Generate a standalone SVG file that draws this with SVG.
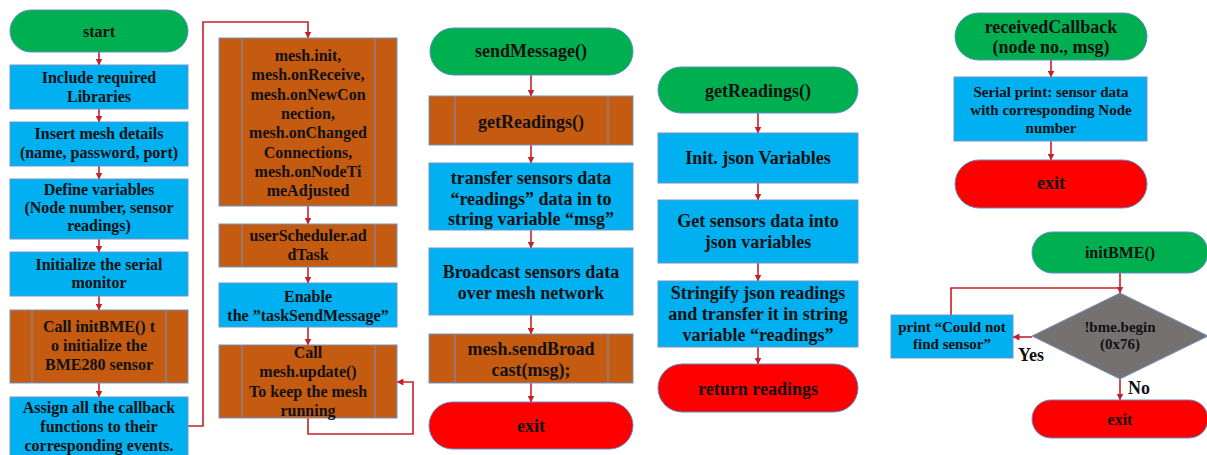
<svg xmlns="http://www.w3.org/2000/svg" width="1207" height="455" viewBox="0 0 1207 455">
<style>
.t{font-family:"Liberation Serif","Times New Roman",serif;font-weight:bold;fill:#111;text-anchor:middle}
.s16{font-size:16px}.s18{font-size:18px}.s15{font-size:15px}
.term-g{fill:#00B050;stroke:#5B8DC9;stroke-width:1}
.term-r{fill:#FF0000;stroke:#5B8DC9;stroke-width:1}
.box{fill:#00B0F0;stroke:#6F95C8;stroke-width:1}
.pre{fill:#C55A11;stroke:#6F95C8;stroke-width:1}
.dia{fill:#767171;stroke:#6F95C8;stroke-width:1}
.conn{fill:none;stroke:#C8202A;stroke-width:1.6}
</style>
<defs>
<marker id="ah" markerUnits="userSpaceOnUse" markerWidth="7" markerHeight="7" refX="6.5" refY="3.5" orient="auto">
<path d="M0,0 L7,3.5 L0,7 z" fill="#C8202A"/>
</marker>
</defs>
<rect width="1207" height="455" fill="#fff"/>

<g id="connectors">
<!-- column 1 -->
<path class="conn" d="M99,52 V65" marker-end="url(#ah)"/>
<path class="conn" d="M99,109 V122" marker-end="url(#ah)"/>
<path class="conn" d="M99,166 V179" marker-end="url(#ah)"/>
<path class="conn" d="M99,239 V252" marker-end="url(#ah)"/>
<path class="conn" d="M99,296 V310" marker-end="url(#ah)"/>
<path class="conn" d="M99,383 V397" marker-end="url(#ah)"/>
<path class="conn" d="M188,426 H203 V22 H308 V38" marker-end="url(#ah)"/>
<!-- column 2 -->
<path class="conn" d="M308,206 V224" marker-end="url(#ah)"/>
<path class="conn" d="M308,267 V283" marker-end="url(#ah)"/>
<path class="conn" d="M308,327 V345" marker-end="url(#ah)"/>
<path class="conn" d="M308,418 V434 H413 V382 H397" marker-end="url(#ah)"/>
<!-- column 3 -->
<path class="conn" d="M531,75 V96" marker-end="url(#ah)"/>
<path class="conn" d="M531,145 V163" marker-end="url(#ah)"/>
<path class="conn" d="M531,230 V248" marker-end="url(#ah)"/>
<path class="conn" d="M531,315 V334" marker-end="url(#ah)"/>
<path class="conn" d="M531,383 V402" marker-end="url(#ah)"/>
<!-- column 4 -->
<path class="conn" d="M758,113 V133" marker-end="url(#ah)"/>
<path class="conn" d="M758,183 V200" marker-end="url(#ah)"/>
<path class="conn" d="M758,263 V281" marker-end="url(#ah)"/>
<path class="conn" d="M758,347 V364" marker-end="url(#ah)"/>
<!-- column 5 -->
<path class="conn" d="M1051,60 V77" marker-end="url(#ah)"/>
<path class="conn" d="M1051,141 V160" marker-end="url(#ah)"/>
<path class="conn" d="M1120,273 V293" marker-end="url(#ah)"/>
<path class="conn" d="M951,315 V288 H1120"/>
<path class="conn" d="M1032,337 H1013" marker-end="url(#ah)"/>
<path class="conn" d="M1120,379 V400" marker-end="url(#ah)"/>
</g>

<!-- column 1 -->
<g id="start"><rect class="term-g" x="10" y="10" width="178" height="42" rx="21"/><text class="t s16" x="99" y="37">start</text></g>
<g id="include"><rect class="box" x="10" y="65" width="178" height="44"/><text class="t s16" x="99" y="83">Include required<tspan x="99" y="102">Libraries</tspan></text></g>
<g id="insert"><rect class="box" x="10" y="122" width="178" height="44"/><text class="t s16" x="99" y="139">Insert mesh details<tspan x="99" y="158">(name, password, port)</tspan></text></g>
<g id="define"><rect class="box" x="10" y="179" width="178" height="60"/><text class="t s16" x="99" y="195">Define variables<tspan x="99" y="213">(Node number, sensor</tspan><tspan x="99" y="231">readings)</tspan></text></g>
<g id="initserial"><rect class="box" x="10" y="252" width="178" height="44"/><text class="t s16" x="99" y="270">Initialize the serial<tspan x="99" y="288">monitor</tspan></text></g>
<g id="callinit"><rect class="pre" x="10" y="310" width="178" height="73"/><line x1="32" y1="310" x2="32" y2="383" stroke="#6F95C8"/><line x1="166" y1="310" x2="166" y2="383" stroke="#6F95C8"/><text class="t s16" x="99" y="332">Call initBME()  t<tspan x="99" y="351">o initialize the</tspan><tspan x="99" y="370">BME280 sensor</tspan></text></g>
<g id="assign"><rect class="box" x="10" y="397" width="178" height="60"/><text class="t s16" x="99" y="413">Assign all the callback<tspan x="99" y="432">functions to their</tspan><tspan x="99" y="451">corresponding events.</tspan></text></g>

<!-- column 2 -->
<g id="meshinit"><rect class="pre" x="219" y="38" width="178" height="168"/><line x1="242" y1="38" x2="242" y2="206" stroke="#6F95C8"/><line x1="375" y1="38" x2="375" y2="206" stroke="#6F95C8"/><text class="t s16" x="308" y="61">mesh.init,<tspan x="308" y="80">mesh.onReceive,</tspan><tspan x="308" y="100">mesh.onNewCon</tspan><tspan x="308" y="119">nection,</tspan><tspan x="308" y="138">mesh.onChanged</tspan><tspan x="308" y="158">Connections,</tspan><tspan x="308" y="177">mesh.onNodeTi</tspan><tspan x="308" y="196">meAdjusted</tspan></text></g>
<g id="addtask"><rect class="pre" x="219" y="224" width="178" height="43"/><line x1="242" y1="224" x2="242" y2="267" stroke="#6F95C8"/><line x1="375" y1="224" x2="375" y2="267" stroke="#6F95C8"/><text class="t s16" x="308" y="241">userScheduler.ad<tspan x="308" y="260">dTask</tspan></text></g>
<g id="enable"><rect class="box" x="219" y="283" width="178" height="44"/><text class="t s16" x="308" y="302">Enable<tspan x="308" y="321">the ”taskSendMessage”</tspan></text></g>
<g id="update"><rect class="pre" x="219" y="345" width="178" height="73"/><line x1="242" y1="345" x2="242" y2="418" stroke="#6F95C8"/><line x1="375" y1="345" x2="375" y2="418" stroke="#6F95C8"/><text class="t s16" x="308" y="358">Call<tspan x="308" y="377">mesh.update()</tspan><tspan x="308" y="397">To keep the mesh</tspan><tspan x="308" y="416">running</tspan></text></g>

<!-- column 3 -->
<g id="sendmessage"><rect class="term-g" x="430" y="28" width="203" height="47" rx="23.5"/><text class="t s18" x="531" y="57">sendMessage()</text></g>
<g id="getreadings-call"><rect class="pre" x="429" y="96" width="204" height="49"/><line x1="455" y1="96" x2="455" y2="145" stroke="#6F95C8"/><line x1="608" y1="96" x2="608" y2="145" stroke="#6F95C8"/><text class="t s18" x="531" y="128">getReadings()</text></g>
<g id="transfer"><rect class="box" x="429" y="163" width="204" height="67"/><text class="t s18" x="531" y="184">transfer sensors data<tspan x="531" y="205">“readings” data in to</tspan><tspan x="531" y="225">string variable “msg”</tspan></text></g>
<g id="broadcast"><rect class="box" x="429" y="248" width="204" height="67"/><text class="t s18" x="531" y="278">Broadcast sensors data<tspan x="531" y="299">over mesh network</tspan></text></g>
<g id="sendbroadcast"><rect class="pre" x="429" y="334" width="204" height="49"/><line x1="455" y1="334" x2="455" y2="383" stroke="#6F95C8"/><line x1="608" y1="334" x2="608" y2="383" stroke="#6F95C8"/><text class="t s18" x="531" y="355">mesh.sendBroad<tspan x="531" y="376">cast(msg);</tspan></text></g>
<g id="exit1"><rect class="term-r" x="429" y="402" width="204" height="47" rx="23.5"/><text class="t s18" x="531" y="432">exit</text></g>

<!-- column 4 -->
<g id="getreadings"><rect class="term-g" x="658" y="67" width="200" height="46" rx="23"/><text class="t s18" x="758" y="97">getReadings()</text></g>
<g id="initjson"><rect class="box" x="658" y="133" width="200" height="50"/><text class="t s18" x="758" y="164">Init. json Variables</text></g>
<g id="getsensors"><rect class="box" x="658" y="200" width="200" height="63"/><text class="t s18" x="758" y="227">Get sensors data into<tspan x="758" y="248">json variables</tspan></text></g>
<g id="stringify"><rect class="box" x="658" y="281" width="200" height="66"/><text class="t s18" x="758" y="299">Stringify json readings<tspan x="758" y="320">and transfer it in string</tspan><tspan x="758" y="341">variable “readings”</tspan></text></g>
<g id="returnreadings"><rect class="term-r" x="658" y="364" width="200" height="48" rx="24"/><text class="t s18" x="758" y="395">return readings</text></g>

<!-- column 5 top -->
<g id="receivedcallback"><rect class="term-g" x="955" y="13" width="192" height="47" rx="23.5"/><text class="t s18" x="1051" y="33">receivedCallback<tspan x="1051" y="53">(node no., msg)</tspan></text></g>
<g id="serialprint"><rect class="box" x="954" y="77" width="193" height="64"/><text class="t s15" x="1051" y="97">Serial print: sensor data<tspan x="1051" y="115">with corresponding Node</tspan><tspan x="1051" y="133">number</tspan></text></g>
<g id="exit2"><rect class="term-r" x="955" y="160" width="192" height="48" rx="24"/><text class="t s18" x="1051" y="189">exit</text></g>

<!-- column 5 bottom -->
<g id="initbme"><rect class="term-g" x="1032" y="232" width="176" height="41" rx="20.5"/><text class="t s16" x="1120" y="258">initBME()</text></g>
<g id="bmebegin"><polygon class="dia" points="1120,293 1208,336 1120,379 1032,336"/><text class="t s15" x="1120" y="332">!bme.begin<tspan x="1120" y="349">(0x76)</tspan></text></g>
<g id="couldnot"><rect class="box" x="891" y="315" width="122" height="43"/><text class="t s15" x="952" y="332">print “Could not<tspan x="952" y="349">find sensor”</tspan></text></g>
<g id="exit3"><rect class="term-r" x="1032" y="400" width="176" height="38" rx="19"/><text class="t s16" x="1120" y="425">exit</text></g>
<text class="t s18" x="1031" y="361">Yes</text>
<text class="t s18" x="1139" y="394">No</text>
</svg>
